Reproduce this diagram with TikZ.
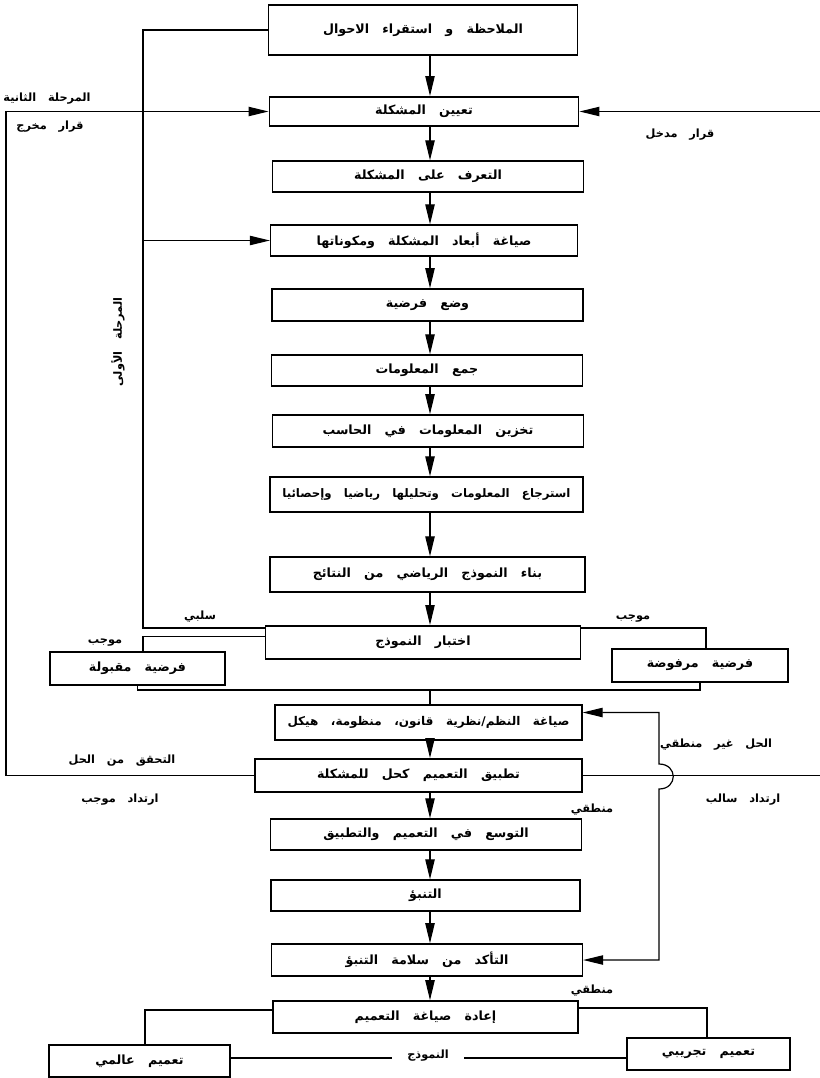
\documentclass[tikz,border=0pt]{standalone}
\usepackage{fontspec}
\newfontfamily\arabicfont[Script=Arabic, WordSpace=3]{DejaVu Sans}
\TeXXeTstate=1
\usetikzlibrary{arrows.meta,calc,positioning}
\newcommand{\artext}[1]{\beginR#1\endR}

\begin{document}
\begin{tikzpicture}[
    x=0.75pt, y=-0.75pt,
    font=\arabicfont\bfseries\fontsize{9.5}{11}\selectfont,
    stage/.style={
      rectangle,
      draw,
      line width=1.2pt,
      minimum width=233pt,
      minimum height=24pt,
      inner sep=2pt,
    },
    sidebox/.style={stage, minimum width=128pt},
    flow/.style={-{Triangle[length=15pt,width=7pt]}, line width=0.9pt},
    link/.style={line width=0.9pt},
    tag/.style={inner sep=1pt, font=\arabicfont\bfseries\fontsize{8.5}{10}\selectfont},
  ]
    \useasboundingbox (0,0) rectangle (820,1078);

    \node[stage, minimum height=37.5pt, minimum width=232pt] (Observe) at (423,30) {\artext{الملاحظة و استقراء الاحوال}};
    \node[stage, minimum height=22pt, minimum width=232pt] (Define) at (424,111.5) {\artext{تعيين المشكلة}};
    \node[stage, minimum height=23pt] (Recognize) at (428,176.5) {\artext{التعرف على المشكلة}};
    \node[stage, minimum height=23pt, minimum width=230pt] (Formulate) at (424,240.5) {\artext{صياغة أبعاد المشكلة ومكوناتها}};
    \node[stage] (Hypothesis) at (427.5,305) {\artext{وضع فرضية}};
    \node[stage, minimum height=23pt] (Collect) at (427,370.5) {\artext{جمع المعلومات}};
    \node[stage] (Store) at (428,431) {\artext{تخزين المعلومات في الحاسب}};
    \node[stage, minimum height=26pt, minimum width=235pt, font=\arabicfont\bfseries\fontsize{8.8}{11}\selectfont] (Retrieve) at (426.5,494.5) {\artext{استرجاع المعلومات وتحليلها رياضيا وإحصائيا}};
    \node[stage, minimum height=26pt, minimum width=236pt] (Build) at (427.5,574.5) {\artext{بناء النموذج الرياضي من النتائج}};
    \node[stage, minimum height=25pt, minimum width=236pt] (Test) at (423,642.5) {\artext{اختبار النموذج}};
    \node[sidebox, minimum width=131pt, minimum height=25pt] (Accepted) at (137.5,668.5) {\artext{فرضية مقبولة}};
    \node[sidebox, minimum width=132pt, minimum height=25pt] (Rejected) at (700,665.5) {\artext{فرضية مرفوضة}};
    \node[stage, minimum height=26pt, minimum width=230pt, font=\arabicfont\bfseries\fontsize{9}{11}\selectfont] (System) at (428.5,722.5) {\artext{صياغة النظم/نظرية قانون، منظومة، هيكل}};
    \node[stage, minimum height=25pt, minimum width=245pt] (Apply) at (418.5,775.5) {\artext{تطبيق التعميم كحل للمشكلة}};
    \node[stage, minimum height=23pt] (Expand) at (426,834.5) {\artext{التوسع في التعميم والتطبيق}};
    \node[stage, minimum height=23pt, minimum width=232pt] (Predict) at (425.5,895.5) {\artext{التنبؤ}};
    \node[stage] (Verify) at (427,960) {\artext{التأكد من سلامة التنبؤ}};
    \node[stage, minimum width=229pt] (Reformulate) at (425.5,1017) {\artext{إعادة صياغة التعميم}};
    \node[sidebox, minimum width=136pt] (Global) at (139.5,1061) {\artext{تعميم عالمي}};
    \node[sidebox, minimum width=122pt] (Trial) at (708.5,1054) {\artext{تعميم تجريبي}};

    % side labels
    \node[tag] (PhaseTwo) at (47,99) {\artext{المرحلة الثانية}};
    \node[tag] (ExitCall) at (50,127) {\artext{قرار مخرج}};
    \node[tag] (EntryCall) at (680,135) {\artext{قرار مدخل}};
    \node[tag, rotate=90] (PhaseOne) at (118,342) {\artext{المرحلة الأولى}};
    \node[tag] (Negative) at (200,617) {\artext{سلبي}};
    \node[tag] (PositiveL) at (105,643) {\artext{موجب}};
    \node[tag] (PositiveR) at (633,619) {\artext{موجب}};
    \node[tag] (CheckSol) at (122,761) {\artext{التحقق من الحل}};
    \node[tag] (PosBack) at (120,800) {\artext{ارتداد موجب}};
    \node[tag] (NotLogical) at (716,745) {\artext{الحل غير منطقي}};
    \node[tag] (NegBack) at (743,800) {\artext{ارتداد سالب}};
    \node[tag] (LogicalA) at (592,810) {\artext{منطقي}};
    \node[tag] (LogicalB) at (592,991) {\artext{منطقي}};
    \node[tag] (Model) at (428,1056) {\artext{النموذج}};

    % main spine
    \coordinate (Spine) at (430,0);
    \draw[flow] (Observe.south -| Spine) -- (Define.north -| Spine);
    \draw[flow] (Define.south -| Spine) -- (Recognize.north -| Spine);
    \draw[flow] (Recognize.south -| Spine) -- (Formulate.north -| Spine);
    \draw[flow] (Formulate.south -| Spine) -- (Hypothesis.north -| Spine);
    \draw[flow] (Hypothesis.south -| Spine) -- (Collect.north -| Spine);
    \draw[flow] (Collect.south -| Spine) -- (Store.north -| Spine);
    \draw[flow] (Store.south -| Spine) -- (Retrieve.north -| Spine);
    \draw[flow] (Retrieve.south -| Spine) -- (Build.north -| Spine);
    \draw[flow] (Build.south -| Spine) -- (Test.north -| Spine);
    \draw[flow] (System.south -| Spine) -- (Apply.north -| Spine);
    \draw[flow] (Apply.south -| Spine) -- (Expand.north -| Spine);
    \draw[flow] (Expand.south -| Spine) -- (Predict.north -| Spine);
    \draw[flow] (Predict.south -| Spine) -- (Verify.north -| Spine);
    \draw[flow] (Verify.south -| Spine) -- (Reformulate.north -| Spine);

    % first stage loop (left, inner)
    \coordinate (LoopIn) at (143,0);
    \coordinate (TestTop) at ($(Test.north west)+(0,3)$);
    \draw[link] (Observe.west) -- (Observe.west -| LoopIn) -- (LoopIn |- TestTop) -- (TestTop);
    \draw[flow] (Formulate.west -| LoopIn) -- (Formulate.west);

    % second stage loop (left, outer)
    \coordinate (LoopOut) at (6,0);
    \draw[flow] (Apply.west) -- (Apply.west -| LoopOut) -- (LoopOut |- Define.west) -- (Define.west);

    % entry decision
    \coordinate (RightEdge) at (820,0);
    \draw[flow] (RightEdge |- Define.east) -- (Define.east);

    % test outcomes
    \coordinate (TestLow) at ($(Test.west)+(0,-6)$);
    \coordinate (TestHigh) at ($(Test.north east)+(0,3)$);
    \coordinate (RejDrop) at (706,0);
    \coordinate (Merge) at (0,690);
    \draw[link] (TestLow) -- (TestLow -| LoopIn) -- (LoopIn |- Accepted.north);
    \draw[link] (TestHigh) -- (TestHigh -| RejDrop) -- (RejDrop |- Rejected.north);
    \draw[link] (Accepted.south) -- (Accepted.south |- Merge) -- (Merge -| Rejected.south) -- (Rejected.south);
    \draw[link] (Merge -| Spine) -- (System.north -| Spine);

    % negative feedback line
    \draw[link] (Apply.east) -- (Apply.east -| RightEdge);

    % not logical: Verify --- System, hopping over the feedback line
    \coordinate (Bracket) at (659,0);
    \coordinate (SysIn) at ($(System.east)+(0,-10)$);
    \coordinate (HopTop) at (659,764);
    \coordinate (HopBot) at (659,789);
    \draw[link, {Triangle[length=15pt,width=7pt]}-{Triangle[length=15pt,width=7pt]}]
      (Verify.east) -- (Verify.east -| Bracket) -- (HopBot)
      .. controls (678,789) and (678,764) .. (HopTop)
      -- (Bracket |- SysIn) -- (SysIn);

    % generalisation outcomes
    \coordinate (ReformL) at ($(Reformulate.west)+(0,-7)$);
    \coordinate (ReformR) at ($(Reformulate.east)+(0,-9)$);
    \coordinate (GlobDrop) at (145,0);
    \coordinate (TrialDrop) at (707,0);
    \coordinate (ModelLine) at (0,1058);
    \draw[link] (ReformL) -- (ReformL -| GlobDrop) -- (GlobDrop |- Global.north);
    \draw[link] (ReformR) -- (ReformR -| TrialDrop) -- (TrialDrop |- Trial.north);
    \draw[link] (Global.east |- ModelLine) -- ($(Model.west |- ModelLine)+(-14,0)$);
    \draw[link] ($(Model.east |- ModelLine)+(14,0)$) -- (Trial.west |- ModelLine);
  \end{tikzpicture}
\end{document}
